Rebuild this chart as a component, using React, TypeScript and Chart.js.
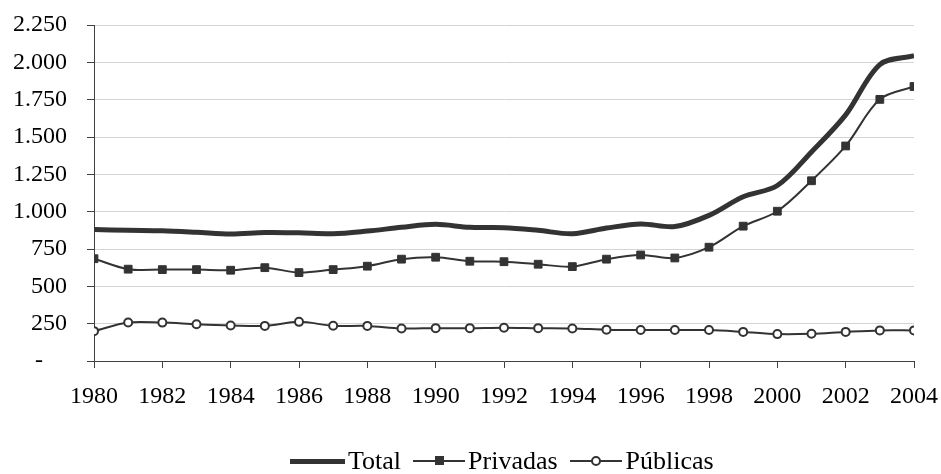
import React, { useEffect, useRef } from "react";
import { Chart, registerables } from "chart.js";

Chart.register(...registerables);

const years = [1980, 1981, 1982, 1983, 1984, 1985, 1986, 1987, 1988, 1989, 1990, 1991, 1992, 1993, 1994, 1995, 1996, 1997, 1998, 1999, 2000, 2001, 2002, 2003, 2004];
const total = [880, 875, 872, 862, 850, 860, 858, 852, 870, 895, 915, 895, 893, 875, 852, 890, 918, 900, 975, 1100, 1175, 1400, 1648, 1985, 2045];
const privadas = [685, 615, 612, 612, 608, 625, 592, 612, 635, 682, 695, 668, 665, 648, 632, 682, 710, 690, 762, 903, 1003, 1207, 1440, 1752, 1838];
const publicas = [200, 258, 257, 246, 238, 235, 262, 236, 235, 218, 220, 220, 223, 220, 218, 210, 207, 207, 207, 195, 180, 182, 195, 205, 205];
const yTicks = [0, 250, 500, 750, 1000, 1250, 1500, 1750, 2000, 2250];

const seriesColor = "#333333";
const axisColor = "#404040";
const gridColor = "#d4d4d4";
const fontFamily = "'Liberation Serif', 'Times New Roman', serif";

function fmt(v: number): string {
  if (v === 0) return "-    ";
  const s = String(Math.round(v));
  return s.replace(/\B(?=(\d{3})+(?!\d))/g, ".");
}

function pts(vals: number[]) {
  return vals.map((v, i) => ({ x: years[i], y: v }));
}

export default function App() {
  const ref = useRef<HTMLCanvasElement | null>(null);

  useEffect(() => {
    if (!ref.current) return;
    const chart = new Chart(ref.current, {
      type: "line",
      data: {
        datasets: [
          {
            label: "Total",
            data: pts(total),
            borderColor: seriesColor,
            borderWidth: 5,
            pointRadius: 0,
            tension: 0.33,
          },
          {
            label: "Privadas",
            data: pts(privadas),
            borderColor: seriesColor,
            backgroundColor: seriesColor,
            borderWidth: 2,
            pointStyle: "rect",
            pointRadius: 5.5,
            pointBorderWidth: 1,
            pointBackgroundColor: seriesColor,
            pointBorderColor: seriesColor,
            tension: 0.33,
          },
          {
            label: "Públicas",
            data: pts(publicas),
            borderColor: seriesColor,
            borderWidth: 2,
            pointStyle: "circle",
            pointRadius: 4,
            pointBorderWidth: 2,
            pointBackgroundColor: "#ffffff",
            pointBorderColor: seriesColor,
            tension: 0.33,
          },
        ],
      },
      options: {
        responsive: false,
        animation: false,
        layout: { padding: { top: 25, right: 27, left: 0, bottom: 0 } },
        plugins: { legend: { display: false }, tooltip: { enabled: false } },
        scales: {
          x: {
            type: "linear",
            min: years[0],
            max: years[years.length - 1],
            afterFit: (s: any) => {
              s.height = 113;
              s.paddingLeft = 0;
              s.paddingRight = 0;
            },
            afterBuildTicks: (s: any) => {
              s.ticks = years.filter((y) => y % 2 === 0).map((y) => ({ value: y }));
            },
            ticks: {
              callback: (v: any) => String(v),
              color: "#000",
              font: { family: fontFamily, size: 24 },
              padding: 14,
              maxRotation: 0,
              autoSkip: false,
            },
            grid: { drawOnChartArea: false, drawTicks: true, tickLength: 7, tickColor: axisColor },
            border: { color: axisColor, width: 1 },
          },
          y: {
            min: 0,
            max: 2250,
            afterFit: (s: any) => {
              s.width = 94;
              s.paddingTop = 0;
              s.paddingBottom = 0;
            },
            afterBuildTicks: (s: any) => {
              s.ticks = yTicks.map((v) => ({ value: v }));
            },
            ticks: {
              callback: (v: any) => fmt(Number(v)),
              color: "#000",
              font: { family: fontFamily, size: 24 },
              padding: 20,
            },
            grid: { color: gridColor, lineWidth: 1, drawTicks: true, tickLength: 7, tickColor: axisColor },
            border: { color: axisColor, width: 1 },
          },
        },
      },
    });
    return () => chart.destroy();
  }, []);

  const legendText: React.CSSProperties = { fontFamily, fontSize: 26, color: "#000", lineHeight: "26px" };

  return (
    <div style={{ position: "absolute", left: 0, top: 0, width: 941, height: 474, background: "#fff", overflow: "hidden" }}>
      <canvas ref={ref} width={941} height={474} style={{ display: "block", width: 941, height: 474 }} />
      <div style={{ position: "absolute", left: 290, top: 448, height: 26, display: "flex", alignItems: "center" }}>
        <div style={{ width: 55, height: 5, background: seriesColor, marginRight: 3 }} />
        <span style={legendText}>Total</span>
        <div style={{ position: "relative", width: 52, height: 2, background: seriesColor, marginLeft: 12, marginRight: 3 }}>
          <div style={{ position: "absolute", left: 22, top: -4, width: 9, height: 9, background: seriesColor }} />
        </div>
        <span style={legendText}>Privadas</span>
        <div style={{ position: "relative", width: 52, height: 2, background: seriesColor, marginLeft: 12, marginRight: 4 }}>
          <div style={{ position: "absolute", left: 21, top: -4, width: 6, height: 6, borderRadius: "50%", border: `2px solid ${seriesColor}`, background: "#fff" }} />
        </div>
        <span style={legendText}>Públicas</span>
      </div>
    </div>
  );
}
